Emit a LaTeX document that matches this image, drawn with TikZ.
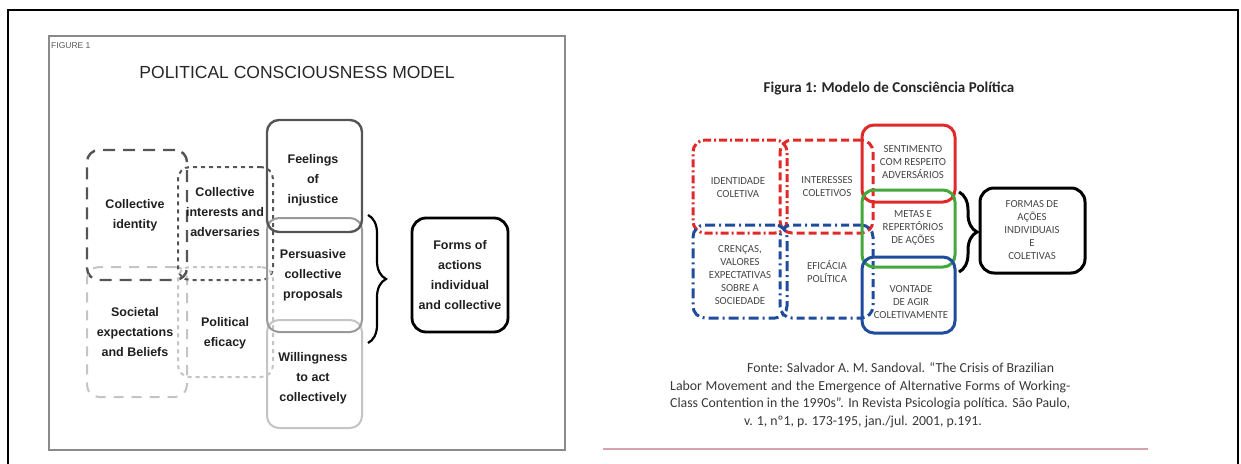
\documentclass[tikz,border=0pt]{standalone}
\usepackage{fontspec}
\setmainfont{Liberation Sans}
\newfontfamily\calibri{Carlito}
\usetikzlibrary{decorations.pathreplacing}

\definecolor{dkgray}{HTML}{555555}
\definecolor{mdgray}{HTML}{999999}
\definecolor{ltgray}{HTML}{C4C4C4}
\definecolor{framegray}{HTML}{8A8A8A}
\definecolor{pred}{HTML}{E02A2A}
\definecolor{pgreen}{HTML}{45A83C}
\definecolor{pblue}{HTML}{1F4C9C}
\definecolor{rule}{HTML}{D6A3AC}

\begin{document}
\begin{tikzpicture}[x=1pt,y=-1pt,
  bx/.style={rectangle, inner sep=0pt, rounded corners=12pt},
  lt/.style={font=\fontsize{12.5}{20}\selectfont\bfseries, text=black!88, align=center},
  rt/.style={font=\calibri\fontsize{10.8}{13}\selectfont, text=black!72, align=center},
  src/.style={font=\calibri\fontsize{13.8}{18}\selectfont, text=black!78, inner sep=0pt},
  longdash/.style={dash pattern=on 12pt off 8pt},
  shortdash/.style={dash pattern=on 4pt off 4pt},
  dashdotr/.style={dash pattern=on 8pt off 3pt on 2pt off 3pt},
  dashr/.style={dash pattern=on 8pt off 4pt},
  dashdashdot/.style={dash pattern=on 8pt off 4pt on 8pt off 4pt on 2pt off 4pt}]
\useasboundingbox (0,0) rectangle (1241,463);
\clip (0,0) rectangle (1241,463);

% outer frame
\draw[line width=2.2pt] (8,475) -- (8,10) -- (1238,10) -- (1238,475);

% ---------- left panel ----------
\draw[framegray, line width=1.6pt] (49,36) rectangle (565,450);
\node[font=\fontsize{8.5}{9}\selectfont, text=black!65, anchor=west, inner sep=0pt] (fig) at (51,46) {FIGURE 1};
\node[font=\fontsize{17.5}{20}\selectfont, text=black!85] (title) at (297,72) {POLITICAL CONSCIOUSNESS MODEL};

\node[bx, draw=dkgray, line width=2.4pt, longdash, minimum width=100pt, minimum height=130pt] (cid) at (137,215) {};
\node[bx, draw=ltgray, line width=2pt, dash pattern=on 10pt off 8pt, minimum width=100pt, minimum height=130pt] (soc) at (137,332) {};
\node[bx, draw=dkgray, line width=2pt, shortdash, minimum width=95pt, minimum height=113pt] (cint) at (225.5,223.5) {};
\node[bx, draw=ltgray, line width=2pt, shortdash, minimum width=95pt, minimum height=110pt] (peff) at (225.5,322) {};
\node[bx, draw=ltgray, line width=2pt, minimum width=95pt, minimum height=108pt] (will) at (314.5,374) {};
\node[bx, draw=mdgray, line width=2pt, minimum width=95pt, minimum height=114pt] (pers) at (314.5,275) {};
\node[bx, draw=dkgray, line width=2.4pt, minimum width=95pt, minimum height=112pt] (feel) at (314.5,176) {};
\node[bx, draw=black, line width=2.8pt, rounded corners=14pt, minimum width=96pt, minimum height=114pt] (forms) at (460,275) {};

\node[lt] (tcid) at (135,215) {Collective\\identity};
\node[lt] (tsoc) at (135,332) {Societal\\expectations\\and Beliefs};
\node[lt] (tcint) at (225,212) {Collective\\interests and\\adversaries};
\node[lt] (tpeff) at (225,333) {Political\\eficacy};
\node[lt] (tfeel) at (313,180) {Feelings\\of\\injustice};
\node[lt] (tpers) at (313,275) {Persuasive\\collective\\proposals};
\node[lt] (twill) at (313,378) {Willingness\\to act\\collectively};
\node[lt] (tforms) at (460,275) {Forms of\\actions\\individual\\and collective};

\coordinate (lbtop) at (368,215);
\coordinate (lbbot) at (368,343);
\draw[decorate, decoration={brace, amplitude=18pt}, line width=2.2pt] (lbtop) -- (lbbot);

% ---------- right panel ----------
\node[font=\calibri\fontsize{15}{18}\selectfont\bfseries, text=black!85] (rtitle) at (889,88) {Figura 1: Modelo de Consciência Política};

\node[bx, draw=pred, line width=3pt, dashdotr, minimum width=94pt, minimum height=93pt] (idc) at (740,186.5) {};
\node[bx, draw=pred, line width=3pt, dashr, minimum width=93pt, minimum height=93pt] (intc) at (826.5,186.5) {};
\node[bx, draw=pblue, line width=3pt, dash pattern=on 10pt off 4pt on 2pt off 4pt, minimum width=94pt, minimum height=93pt] (cren) at (740,271.5) {};
\node[bx, draw=pblue, line width=3pt, dashdashdot, minimum width=93pt, minimum height=93pt] (efic) at (826.5,271.5) {};
\node[bx, draw=pred, line width=3pt, minimum width=93pt, minimum height=77pt] (sent) at (908.5,163.5) {};
\node[bx, draw=pgreen, line width=3pt, minimum width=93pt, minimum height=77pt] (metas) at (908.5,228.5) {};
\node[bx, draw=pblue, line width=3pt, minimum width=93pt, minimum height=76pt] (vont) at (908.5,295) {};
\node[bx, draw=black, line width=3pt, rounded corners=14pt, minimum width=105pt, minimum height=85pt] (formas) at (1032.5,230.5) {};

\node[rt] (tidc) at (738,188) {IDENTIDADE\\COLETIVA};
\node[rt] (tintc) at (827,187) {INTERESSES\\COLETIVOS};
\node[rt] (tsent) at (913,162) {SENTIMENTO\\COM RESPEITO\\ADVERSÁRIOS};
\node[rt] (tmetas) at (913,228) {METAS E\\REPERTÓRIOS\\DE AÇÕES};
\node[rt] (tcren) at (740,275) {CRENÇAS,\\VALORES\\EXPECTATIVAS\\SOBRE A\\SOCIEDADE};
\node[rt] (tefic) at (827,272) {EFICÁCIA\\POLÍTICA};
\node[rt] (tvont) at (911,302) {VONTADE\\DE AGIR\\COLETIVAMENTE};
\node[rt] (tformas) at (1032,230) {FORMAS DE\\AÇÕES\\INDIVIDUAIS\\E\\COLETIVAS};

\coordinate (rbtop) at (959,192);
\coordinate (rbbot) at (959,272);
\draw[decorate, decoration={brace, amplitude=18pt}, line width=3pt] (rbtop) -- (rbbot);

% source note
\node[src, anchor=west] (s1) at (747,368) {Fonte: Salvador A. M. Sandoval. “The Crisis of Brazilian};
\node[src, anchor=west] (s2) at (670,387) {\makebox[400pt][s]{Labor Movement and the Emergence of Alternative Forms of Working-}};
\node[src, anchor=west] (s3) at (670,404) {\makebox[400pt][s]{Class Contention in the 1990s”. In Revista Psicologia política. São Paulo,}};
\node[src] (s4) at (863,422) {v. 1, nº1, p. 173-195, jan./jul. 2001, p.191.};

\draw[rule, line width=1.6pt] (603,449) -- (1148,449);
\end{tikzpicture}
\end{document}
